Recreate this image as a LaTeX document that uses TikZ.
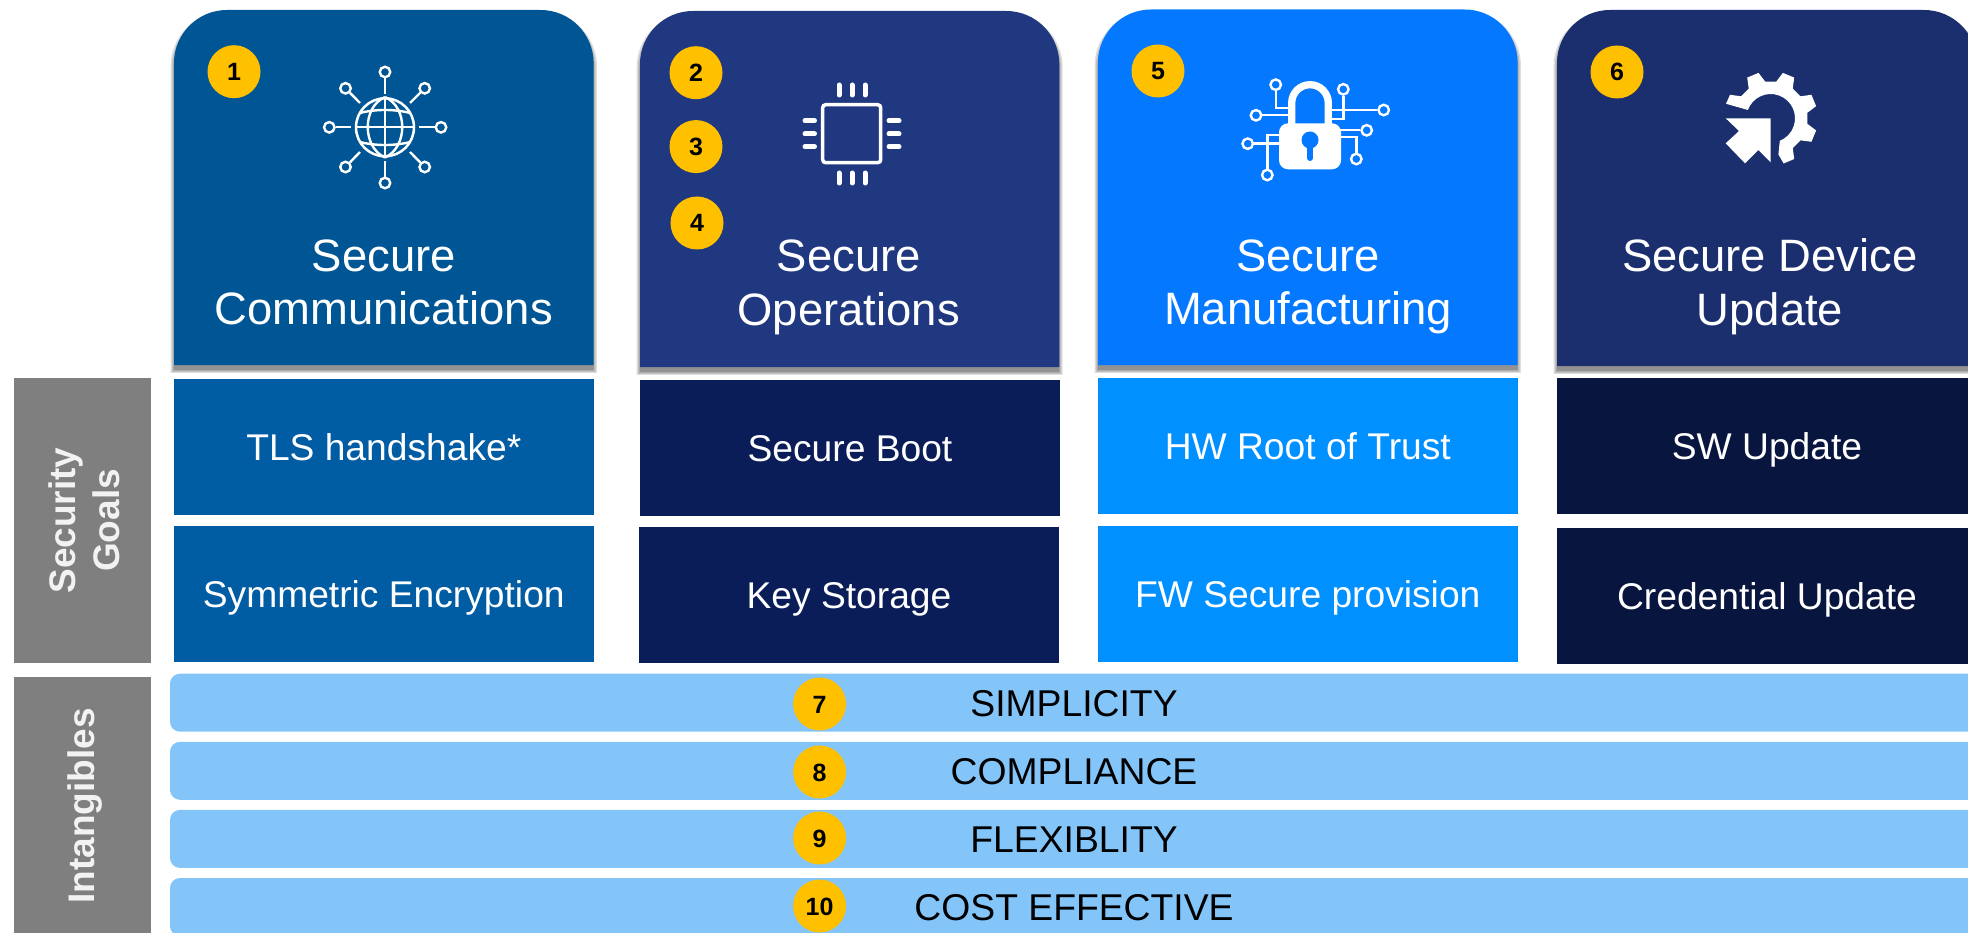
\documentclass[tikz,border=0pt]{standalone}
\usepackage{fontspec}
\setmainfont{Liberation Sans}
\usetikzlibrary{positioning,shadows}

\definecolor{commblue}{HTML}{005694}
\definecolor{opsblue}{HTML}{203880}
\definecolor{manublue}{HTML}{0478FF}
\definecolor{updblue}{HTML}{1B2F6E}
\definecolor{commrow}{HTML}{005DA3}
\definecolor{opsrow}{HTML}{0B1D58}
\definecolor{manurow}{HTML}{0090FF}
\definecolor{updrow}{HTML}{08163F}
\definecolor{bandblue}{HTML}{83C4F9}
\definecolor{badgegold}{HTML}{FFC000}
\definecolor{sidegrey}{HTML}{7F7F7F}

\tikzset{
  softshade/.style={fill=black,opacity=.13,shadow yshift=-5pt,shadow scale=#1},
  card/.style={general shadow={softshade=1.016},general shadow={softshade=1.01},general shadow={softshade=1.004},general shadow={softshade=1}},
  cardtitle/.style={text=white,align=center,anchor=base,inner sep=0pt,font=\fontsize{45.4}{54}\selectfont},
  goalbox/.style={text=white,minimum width=420pt,minimum height=136pt,inner sep=0pt,text height=27pt,text depth=0pt,font=\fontsize{37.2}{44}\selectfont},
  sidebox/.style={fill=sidegrey,minimum width=137pt,inner sep=0pt},
  sidetext/.style={text=white!95!black,align=center,rotate=90,font=\bfseries\fontsize{37}{44}\selectfont},
  band/.style={fill=bandblue,rounded corners=10pt,minimum width=1808pt,minimum height=58pt,inner sep=0pt,text height=27pt,text depth=0pt,font=\fontsize{37.3}{44}\selectfont},
  badge/.style={circle,fill=badgegold,minimum size=53pt,inner sep=0pt,text height=18pt,text depth=0pt,font=\bfseries\fontsize{25}{30}\selectfont},
  wire/.style={draw=white,line width=2.4pt},
  pad/.style={draw=white,line width=2.4pt,circle,minimum size=10.5pt,inner sep=0pt},
  pin/.style={draw=white,line width=5pt,line cap=round},
}

\begin{document}
\begin{tikzpicture}[x=1pt,y=-1pt]
\clip (0,0) rectangle (1968,933);

\fill[card,commblue] (174,365) [rounded corners=53pt] -- (174,10) -- (593.6,10) [sharp corners] -- (593.6,365) -- cycle;
\fill[card,opsblue] (640,367) [rounded corners=53pt] -- (640,11) -- (1059.3,11) [sharp corners] -- (1059.3,367) -- cycle;
\fill[card,manublue] (1098,365) [rounded corners=53pt] -- (1098,9.5) -- (1517.6,9.5) [sharp corners] -- (1517.6,365) -- cycle;
\fill[card,updblue] (1557,366) [rounded corners=53pt] -- (1557,10) -- (1977,10) [sharp corners] -- (1977,366) -- cycle;

\node[cardtitle] (commtitle) at (383.8,325) {Secure\\Communications};
\node[cardtitle] (opstitle) at (848.7,326) {Secure\\Operations};
\node[cardtitle] (manutitle) at (1308,325) {Secure\\Manufacturing};
\node[cardtitle] (updtitle) at (1770,326) {Secure Device\\Update};

\node[goalbox,fill=commrow] (tls) at (383.8,446.5) {TLS handshake*};
\node[goalbox,fill=commrow,below=11.5pt of tls] (symm) {Symmetric Encryption};
\node[goalbox,fill=opsrow] (boot) at (850,447.5) {Secure Boot};
\node[goalbox,fill=opsrow,below=11pt of boot,xshift=-1pt] (keys) {Key Storage};
\node[goalbox,fill=manurow] (root) at (1307.8,445.5) {HW Root of Trust};
\node[goalbox,fill=manurow,below=12.5pt of root] (prov) {FW Secure provision};
\node[goalbox,fill=updrow] (swup) at (1767,446) {SW Update};
\node[goalbox,fill=updrow,below=13.5pt of swup] (cred) {Credential Update};

\node[sidebox,minimum height=285pt] (goals) at (82.5,520.5) {};
\node[sidetext] (goalstext) at (84.5,520.5) {Security\\Goals};
\node[sidebox,minimum height=258pt,below=14pt of goals] (intang) {};
\node[sidetext] (intangtext) at (85.5,806) {Intangibles};

\node[band] (simp) at (1074,702.7) {SIMPLICITY};
\node[band,below=9.7pt of simp] (comp) {COMPLIANCE};
\node[band,below=9.7pt of comp] (flex) {FLEXIBLITY};
\node[band,below=9.7pt of flex] (cost) {COST EFFECTIVE};

\node[badge] (b1) at (234,71.7) {1};
\node[badge] (b2) at (696,72.7) {2};
\node[badge,below=20.5pt of b2] (b3) {3};
\node[badge] (b4) at (697,223) {4};
\node[badge] (b5) at (1158,71) {5};
\node[badge] (b6) at (1617,72) {6};
\node[badge] (b7) at (819.6,704) {7};
\node[badge] (b8) at (819.6,772) {8};
\node[badge] (b9) at (819.6,838) {9};
\node[badge] (b10) at (819.6,906) {10};

% globe
\node[circle,draw=white,line width=2.5pt,minimum size=58pt,inner sep=0pt] (globe) at (385,127.3) {};
\draw[wire] (globe.north) -- (globe.south) (globe.west) -- (globe.east);
\draw[wire] (globe.north) .. controls (362,107) and (362,147) .. (globe.south);
\draw[wire] (globe.north) .. controls (408,107) and (408,147) .. (globe.south);
\draw[wire] (360,113) .. controls (375,109) and (395,109) .. (410,113);
\draw[wire] (360,142) .. controls (375,146) and (395,146) .. (410,142);
\node[pad] (gn) at (385,72) {};
\node[pad] (gs) at (385,183) {};
\node[pad] (gw) at (329.3,127.3) {};
\node[pad] (ge) at (441,127.3) {};
\node[pad] (gne) at (424.7,88.3) {};
\node[pad] (gnw) at (345.5,88.3) {};
\node[pad] (gse) at (424.7,167) {};
\node[pad] (gsw) at (345.5,167) {};
\draw[wire] (gn) -- (385,94) (gs) -- (385,161) (gw) -- (351,127.3) (ge) -- (419,127.3);
\draw[wire] (gne) -- (410,103) (gnw) -- (360,103) (gse) -- (410,152) (gsw) -- (360,152);

% chip
\node[draw=white,line width=3.5pt,rounded corners=3pt,minimum size=58pt,inner sep=0pt] (chip) at (851.7,133.7) {};
\draw[pin] (839,85) -- (839,95) (852,85) -- (852,95) (865,85) -- (865,95);
\draw[pin] (839,173) -- (839,183) (852,173) -- (852,183) (865,173) -- (865,183);
\draw[pin] (805,120.7) -- (814.5,120.7) (805,134) -- (814.5,134) (805,146.7) -- (814.5,146.7);
\draw[pin] (889,120.7) -- (899,120.7) (889,134) -- (899,134) (889,146.7) -- (899,146.7);

% lock
\node[pad] (la) at (1275.7,84.7) {};
\node[pad] (lb) at (1256,115.3) {};
\node[pad] (lc) at (1247.7,143.7) {};
\node[pad] (ld) at (1267.3,175) {};
\node[pad] (le) at (1343.3,89.3) {};
\node[pad] (lf) at (1383.7,110) {};
\node[pad] (lg) at (1366.7,130.3) {};
\node[pad] (lh) at (1356.3,159) {};
\draw[wire] (la) |- (1290,108);
\draw[wire] (lb) -- (1290,115.3);
\draw[wire] (lc) -- (1282,143.7);
\draw[wire] (ld) |- (1282,135);
\draw[wire] (le) |- (1330,119);
\draw[wire] (lf) -- (1330,110);
\draw[wire] (lg) -- (1338,130.3);
\draw[wire] (lh) |- (1338,137);
\draw[white,line width=7.3pt] (1291.7,125) -- (1291.7,103) arc[start angle=180,end angle=0,radius=18.3pt] -- (1328.3,125);
\node[fill=white,rounded corners=9pt,minimum width=62pt,minimum height=46pt,inner sep=0pt] (lockbody) at (1310,146.3) {};
\node[circle,fill=manublue,minimum size=17pt,inner sep=0pt] (keyhole) at (1310,140) {};
\draw[manublue,line width=6pt,line cap=round] (keyhole) -- (1310,158);

% gear and arrow
\begin{scope}[shift={(1770.7,118.3)},y=1pt]
\fill[white] (160:24.3) arc[start angle=160,end angle=-68,radius=24.3pt] -- (-78:37) -- (-74:47) -- (-60:47) -- (-53.5:37)
  -- (-36.5:37) -- (-30:47) -- (-15:47) -- (-8.5:37)
  -- (8.5:37) -- (15:47) -- (30:47) -- (36.5:37)
  -- (53.5:37) -- (60:47) -- (75:47) -- (81.5:37)
  -- (98.5:37) -- (105:47) -- (120:47) -- (126.5:37)
  -- (143.5:37) -- (150:47) -- (162:47) -- cycle;
\end{scope}
\fill[white] (1725.7,118.3) -- (1770.7,118.3) -- (1770.7,162.3) -- (1758.3,150) -- (1745,163.3) -- (1725.7,143.3) -- (1739,131) -- cycle;

\end{tikzpicture}
\end{document}
